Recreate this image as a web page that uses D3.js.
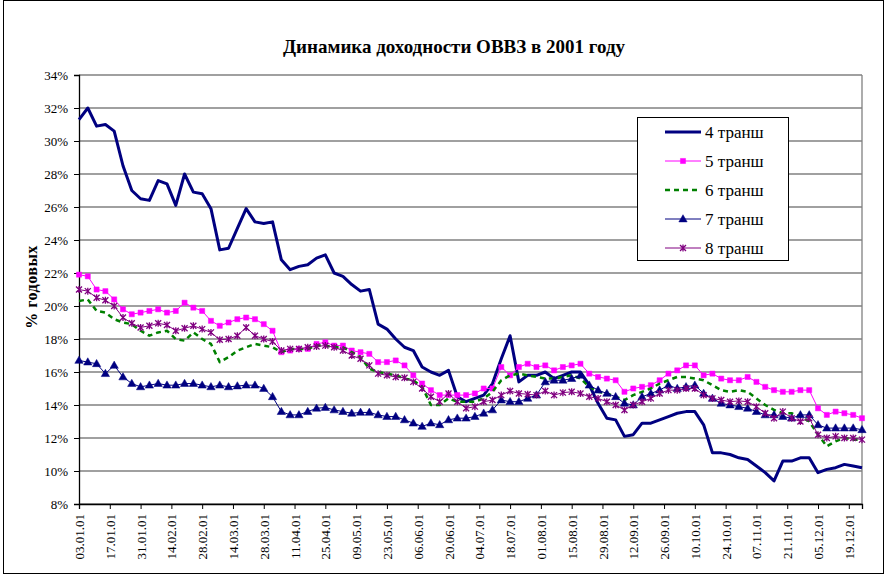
<!DOCTYPE html>
<html>
<head>
<meta charset="utf-8">
<style type="text/css">
	body{ margin:0; background:#fff; }
	svg{ display:block; }
	text{ font-family:"Liberation Serif","Times New Roman",serif; }
</style>
<script src="https://cdn.jsdelivr.net/npm/d3@7/dist/d3.min.js"></script>
</head>
<body>
<svg id="svg" width="887" height="576"></svg>
<script type="text/javascript">

// sample dates (dd.mm.2001)
var days = [
	"03.01","07.01","11.01","15.01","19.01","23.01","27.01","31.01",
	"04.02","08.02","12.02","16.02","20.02","24.02","28.02",
	"04.03","08.03","12.03","16.03","20.03","24.03","28.03",
	"01.04","05.04","09.04","13.04","17.04","21.04","25.04","29.04",
	"03.05","07.05","11.05","15.05","19.05","23.05","27.05","31.05",
	"04.06","08.06","12.06","16.06","20.06","24.06","28.06",
	"02.07","06.07","10.07","14.07","18.07","22.07","26.07","30.07",
	"03.08","07.08","11.08","15.08","19.08","23.08","27.08","31.08",
	"04.09","08.09","12.09","16.09","20.09","24.09","28.09",
	"02.10","06.10","10.10","14.10","18.10","22.10","26.10","30.10",
	"03.11","07.11","11.11","15.11","19.11","23.11","27.11",
	"01.12","05.12","09.12","13.12","17.12","21.12","25.12"
];

var tr4 = [31.3,32.0,30.9,31.0,30.6,28.5,27.0,26.5,26.4,27.6,27.4,26.1,28.0,26.9,26.8,
	25.9,23.4,23.5,24.7,25.9,25.1,25.0,25.1,22.8,22.2,22.4,22.5,22.9,23.1,22.0,
	21.8,21.3,20.9,21.0,18.9,18.6,18.0,17.5,17.3,16.3,16.0,15.8,16.1,14.5,14.2,
	14.4,14.6,15.3,16.8,18.2,15.4,15.8,15.8,16.0,15.6,15.8,16.0,16.0,15.2,14.1,
	13.2,13.1,12.1,12.2,12.9,12.9,13.1,13.3,13.5,13.6,13.6,12.8,11.1,11.1,11.0,
	10.8,10.7,10.3,9.9,9.4,10.6,10.6,10.8,10.8,9.9,10.1,10.2,10.4,10.3,10.2];

var tr5 = [21.9,21.8,21.0,20.9,20.4,19.8,19.5,19.6,19.7,19.8,19.6,19.7,20.2,19.9,19.7,
	19.1,18.8,19.0,19.2,19.3,19.2,18.9,18.5,17.2,17.3,17.4,17.4,17.7,17.8,17.6,
	17.6,17.3,17.2,17.1,16.6,16.6,16.7,16.4,15.8,15.3,14.9,14.6,14.6,14.6,14.6,
	14.7,15.0,15.0,16.3,15.8,16.3,16.5,16.3,16.4,16.1,16.3,16.4,16.5,15.9,15.7,
	15.6,15.5,14.8,15.0,15.1,15.2,15.5,15.9,16.1,16.4,16.4,15.8,15.9,15.6,15.5,
	15.5,15.7,15.4,15.1,14.9,14.8,14.8,14.9,14.9,13.8,13.4,13.6,13.5,13.4,13.2];

var tr6 = [20.3,20.4,19.7,19.6,19.2,19.0,18.9,18.5,18.2,18.4,18.5,18.0,17.9,18.4,18.0,
	17.7,16.6,16.9,17.3,17.5,17.7,17.6,17.5,17.2,17.4,17.4,17.4,17.6,17.6,17.5,
	17.5,17.2,16.9,16.2,16.0,15.9,15.8,15.6,15.5,15.1,14.0,14.0,14.4,14.2,14.2,
	14.2,14.4,14.8,15.5,15.8,15.9,15.8,15.7,15.6,15.6,15.7,15.8,15.6,15.1,14.8,
	14.7,14.5,14.3,14.6,14.8,15.0,15.3,15.5,15.7,15.7,15.6,15.5,15.2,14.9,14.8,
	14.9,14.8,14.4,14.0,13.7,13.5,13.5,13.3,13.0,12.2,11.5,11.8,12.0,11.9,11.9];

var tr7 = [16.7,16.6,16.5,15.9,16.4,15.7,15.3,15.1,15.2,15.3,15.2,15.2,15.3,15.3,15.2,
	15.1,15.2,15.1,15.15,15.2,15.2,15.0,14.5,13.6,13.4,13.4,13.6,13.8,13.85,13.7,
	13.6,13.5,13.55,13.55,13.4,13.3,13.3,13.1,12.9,12.7,12.9,12.8,13.1,13.2,13.2,
	13.3,13.5,13.7,14.3,14.2,14.2,14.4,14.6,15.4,15.5,15.5,15.6,15.8,15.2,14.9,
	14.7,14.5,14.1,14.0,14.5,14.7,14.9,15.2,15.0,15.1,15.2,14.7,14.4,14.1,14.0,
	13.9,13.8,13.6,13.4,13.4,13.3,13.2,13.4,13.4,12.8,12.6,12.6,12.6,12.6,12.5];

var tr8 = [21.0,20.9,20.5,20.35,20.0,19.3,18.95,18.7,18.8,18.95,18.85,18.5,18.65,18.8,18.6,
	18.4,17.95,18.0,18.2,18.7,18.2,18.0,17.85,17.3,17.4,17.4,17.5,17.55,17.6,17.5,
	17.3,17.0,16.8,16.4,15.9,15.8,15.7,15.65,15.4,15.0,14.5,14.2,14.7,14.2,13.8,
	13.9,14.2,14.3,14.6,14.85,14.7,14.65,14.6,14.85,14.6,14.75,14.8,14.7,14.5,14.4,
	14.2,14.0,13.7,14.0,14.2,14.4,14.7,14.9,14.9,15.0,15.0,14.6,14.4,14.3,14.2,
	14.25,14.2,13.9,13.5,13.2,13.6,13.2,13.0,13.2,12.2,12.0,12.1,12.0,12.0,11.9];

var seriesNames = ["4 транш","5 транш","6 транш","7 транш","8 транш"];

var tickLabels = ["03.01.01","17.01.01","31.01.01","14.02.01","28.02.01","14.03.01","28.03.01",
	"11.04.01","25.04.01","09.05.01","23.05.01","06.06.01","20.06.01","04.07.01","18.07.01",
	"01.08.01","15.08.01","29.08.01","12.09.01","26.09.01","10.10.01","24.10.01","07.11.01",
	"21.11.01","05.12.01","19.12.01"];

var yTicks = [8,10,12,14,16,18,20,22,24,26,28,30,32,34];

var parseDay = d3.timeParse("%d.%m.%Y");
var parseTick = d3.timeParse("%d.%m.%y");
var dates = days.map(function(d){ return parseDay(d + ".2001"); });
var tickDates = tickLabels.map(function(d){ return parseTick(d); });

var plotL = 79, plotR = 862, plotT = 75, plotB = 504;
var serif = "Liberation Serif";

var x = d3.scaleTime().domain([dates[0], dates[dates.length-1]]).range([plotL, plotR]);
var y = d3.scaleLinear().domain([8,34]).range([plotB, plotT]);

var svg = d3.select("#svg");

// chart frame
svg.append("rect").attr("x",3.5).attr("y",0.5).attr("width",880).attr("height",573)
	.style("fill","none").style("stroke","#000").style("stroke-width",1);

// title
svg.append("text").attr("x",454).attr("y",53).attr("text-anchor","middle")
	.style("font-family",serif).style("font-size","19px").style("font-weight","bold")
	.text("Динамика доходности ОВВЗ в 2001 году");

// gridlines
svg.append("g").selectAll("line").data(yTicks).enter().append("line")
	.attr("x1",plotL).attr("x2",plotR)
	.attr("y1",function(d){ return y(d); }).attr("y2",function(d){ return y(d); })
	.style("stroke","#808080").style("stroke-width",1.3);

// plot area right border
svg.append("line").attr("x1",plotR).attr("x2",plotR).attr("y1",plotT).attr("y2",plotB)
	.style("stroke","#808080").style("stroke-width",1.3);

// y axis
var yAxis = svg.append("g").attr("transform","translate("+plotL+",0)")
	.call(d3.axisLeft(y).tickValues(yTicks).tickSize(5).tickPadding(6)
		.tickFormat(function(d){ return d + "%"; }));
yAxis.select(".domain").style("stroke","#000").style("stroke-width",1.3);
yAxis.selectAll("line").style("stroke","#000");
yAxis.selectAll("text").style("font-size","13px").style("font-family",serif).attr("fill","#000");

// x axis
var xAxis = svg.append("g").attr("transform","translate(0,"+plotB+")")
	.call(d3.axisBottom(x).tickValues(tickDates).tickSize(5)
		.tickFormat(d3.timeFormat("%d.%m.%y")));
xAxis.select(".domain").style("stroke","#000").style("stroke-width",1.3);
xAxis.selectAll("line").style("stroke","#000");
xAxis.selectAll("text")
	.style("font-size","13px").style("font-family",serif).attr("fill","#000")
	.attr("text-anchor","end").attr("dy","0.35em")
	.attr("transform","translate(0,10) rotate(-90)").attr("x",0).attr("y",0);

// y label
svg.append("text").attr("transform","translate(37,287) rotate(-90)")
	.attr("text-anchor","middle").style("font-family",serif)
	.style("font-size","16px").style("font-weight","bold").style("letter-spacing","0.5px")
	.text("% годовых");

// lines
var allSeries = [tr4, tr5, tr6, tr7, tr8];
var styles = [
	{color:"#000080", width:3, dash:null, marker:null},
	{color:"#FF00FF", width:1, dash:null, marker:"square"},
	{color:"#008000", width:2.5, dash:"5,4", marker:null},
	{color:"#000080", width:1, dash:null, marker:"triangle"},
	{color:"#800080", width:1, dash:null, marker:"star"}
];

var line = d3.line()
	.x(function(d,i){ return x(dates[i]); })
	.y(function(d){ return y(d); });

var starPath = "M-3,-3L3,3M-3,3L3,-3M0,-3.5L0,3.5";

function drawMarker(g, type, color){
	if(type === "square"){
		g.append("path").attr("d", d3.symbol().type(d3.symbolSquare).size(26)())
			.style("fill",color).style("stroke",color).style("stroke-width",0.5);
	} else if(type === "triangle"){
		g.append("path").attr("d", d3.symbol().type(d3.symbolTriangle).size(30)())
			.attr("transform","translate(0,0.5)")
			.style("fill",color).style("stroke",color).style("stroke-width",0.5);
	} else if(type === "star"){
		g.append("path").attr("d", starPath)
			.style("fill","none").style("stroke",color).style("stroke-width",1.3);
	}
}

allSeries.forEach(function(vals, k){
	var st = styles[k];
	var g = svg.append("g").attr("class","series"+k);
	g.append("path").datum(vals).attr("d", line)
		.style("fill","none").style("stroke",st.color).style("stroke-width",st.width)
		.style("stroke-dasharray",st.dash).style("stroke-linejoin","round");
	if(st.marker){
		g.selectAll("g.m").data(vals).enter().append("g").attr("class","m")
			.attr("transform",function(d,i){ return "translate("+x(dates[i])+","+y(d)+")"; })
			.each(function(){ drawMarker(d3.select(this), st.marker, st.color); });
	}
});

// legend
var lg = svg.append("g").attr("transform","translate(637,117)");
lg.append("rect").attr("x",0.5).attr("y",0.5).attr("width",151).attr("height",143)
	.style("fill","#fff").style("stroke","#000").style("stroke-width",1);
seriesNames.forEach(function(name, k){
	var st = styles[k];
	var row = lg.append("g").attr("transform","translate(0,"+(15+k*29)+")");
	row.append("line").attr("x1",28).attr("x2",64).attr("y1",0).attr("y2",0)
		.style("stroke",st.color).style("stroke-width",st.width).style("stroke-dasharray",st.dash);
	if(st.marker){
		var m = row.append("g").attr("transform","translate(46,0)");
		drawMarker(m, st.marker, st.color);
	}
	row.append("text").attr("x",68).attr("y",0).attr("dy","0.35em")
		.style("font-family",serif).style("font-size","17px").text(name);
});

</script>
</body>
</html>
